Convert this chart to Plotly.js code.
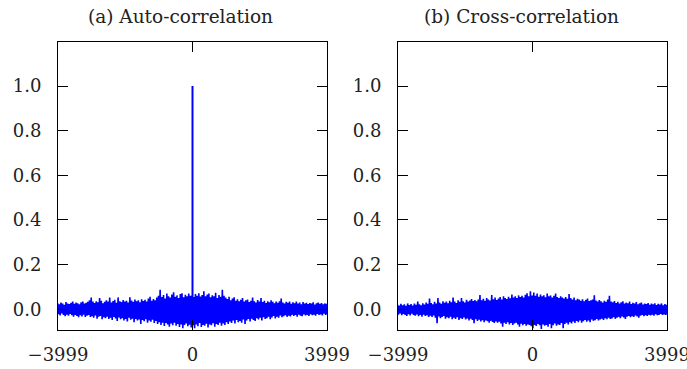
<!DOCTYPE html>
<html>
<head>
<meta charset="utf-8">
<script src="https://cdn.plot.ly/plotly-3.0.1.min.js"></script>
<style>html,body{margin:0;padding:0;background:#fff;}#chart{width:687px;height:369px;}</style>
</head>
<body>
<div id="chart"></div>
<script>
// Lag range of the correlation (sequence length 4000)
const lagMin = -3999;
const lagMax = 3999;
const nSamples = 161;

// Auto-correlation: upper / lower extent of the noise band, read column by column
const autoUpper = [
  0.028, 0.022, 0.030, 0.025, 0.020, 0.032, 0.026, 0.023, 0.029, 0.034,
  0.024, 0.030, 0.027, 0.022, 0.031, 0.035, 0.026, 0.029, 0.033, 0.040,
  0.052, 0.034, 0.028, 0.036, 0.031, 0.050, 0.038, 0.027, 0.033, 0.040,
  0.035, 0.052, 0.030, 0.037, 0.042, 0.029, 0.053, 0.036, 0.032, 0.041,
  0.034, 0.038, 0.030, 0.054, 0.039, 0.033, 0.044, 0.036, 0.040, 0.031,
  0.045, 0.037, 0.042, 0.034, 0.048, 0.056, 0.038, 0.046, 0.040, 0.052,
  0.060, 0.087, 0.055, 0.064, 0.048, 0.070, 0.058, 0.052, 0.066, 0.076,
  0.056, 0.062, 0.050, 0.068, 0.072, 0.054, 0.065, 0.058, 0.070, 0.060,
  0.062, 0.055, 0.068, 0.060, 0.072, 0.057, 0.064, 0.080, 0.058, 0.066,
  0.070, 0.054, 0.062, 0.058, 0.074, 0.050, 0.064, 0.056, 0.087, 0.060,
  0.052, 0.046, 0.056, 0.040, 0.048, 0.054, 0.038, 0.045, 0.036, 0.042,
  0.050, 0.034, 0.040, 0.044, 0.032, 0.038, 0.052, 0.036, 0.030, 0.041,
  0.035, 0.050, 0.032, 0.038, 0.028, 0.036, 0.031, 0.040, 0.033, 0.027,
  0.034, 0.029, 0.036, 0.048, 0.030, 0.026, 0.033, 0.029, 0.035, 0.024,
  0.031, 0.027, 0.034, 0.025, 0.030, 0.022, 0.032, 0.026, 0.029, 0.023,
  0.028, 0.025, 0.031, 0.021, 0.027, 0.030, 0.024, 0.028, 0.022, 0.026,
  0.024
];
const autoLower = [
  -0.022, -0.028, -0.019, -0.026, -0.031, -0.024, -0.029, -0.021, -0.027, -0.033,
  -0.025, -0.030, -0.036, -0.027, -0.032, -0.024, -0.034, -0.029, -0.026, -0.035,
  -0.031, -0.038, -0.028, -0.042, -0.034, -0.030, -0.045, -0.036, -0.040, -0.033,
  -0.044, -0.038, -0.048, -0.035, -0.041, -0.052, -0.037, -0.045, -0.040, -0.050,
  -0.043, -0.055, -0.038, -0.047, -0.042, -0.058, -0.044, -0.050, -0.046, -0.066,
  -0.048, -0.054, -0.045, -0.060, -0.050, -0.056, -0.047, -0.062, -0.052, -0.066,
  -0.058, -0.070, -0.060, -0.075, -0.062, -0.068, -0.078, -0.064, -0.072, -0.060,
  -0.074, -0.066, -0.080, -0.068, -0.085, -0.070, -0.064, -0.076, -0.069, -0.082,
  -0.072, -0.085, -0.068, -0.076, -0.062, -0.080, -0.070, -0.074, -0.065, -0.082,
  -0.068, -0.072, -0.063, -0.078, -0.066, -0.070, -0.060, -0.074, -0.064, -0.070,
  -0.058, -0.066, -0.055, -0.062, -0.050, -0.064, -0.048, -0.058, -0.052, -0.060,
  -0.046, -0.066, -0.050, -0.044, -0.055, -0.042, -0.048, -0.052, -0.040, -0.046,
  -0.038, -0.050, -0.036, -0.044, -0.040, -0.034, -0.045, -0.037, -0.030, -0.041,
  -0.033, -0.038, -0.028, -0.036, -0.031, -0.027, -0.034, -0.029, -0.032, -0.025,
  -0.030, -0.026, -0.033, -0.024, -0.029, -0.031, -0.023, -0.028, -0.025, -0.030,
  -0.022, -0.027, -0.024, -0.029, -0.021, -0.026, -0.023, -0.028, -0.020, -0.025,
  -0.022
];
// Auto-correlation peak at zero lag
const peakLag = [0];
const peakValue = [1.0];

// Cross-correlation: upper / lower extent of the noise band
const crossUpper = [
  0.020, 0.016, 0.024, 0.018, 0.022, 0.015, 0.026, 0.019, 0.023, 0.017,
  0.025, 0.020, 0.034, 0.022, 0.018, 0.027, 0.021, 0.030, 0.024, 0.048,
  0.028, 0.022, 0.033, 0.026, 0.050, 0.030, 0.024, 0.036, 0.029, 0.034,
  0.027, 0.038, 0.031, 0.052, 0.035, 0.028, 0.040, 0.033, 0.050, 0.036,
  0.030, 0.042, 0.035, 0.039, 0.046, 0.037, 0.041, 0.036, 0.044, 0.064,
  0.040, 0.047, 0.038, 0.050, 0.043, 0.039, 0.064, 0.045, 0.052, 0.041,
  0.048, 0.055, 0.044, 0.058, 0.050, 0.046, 0.056, 0.049, 0.066, 0.053,
  0.058, 0.050, 0.062, 0.055, 0.060, 0.052, 0.065, 0.072, 0.058, 0.080,
  0.062, 0.075, 0.060, 0.070, 0.056, 0.066, 0.058, 0.063, 0.054, 0.070,
  0.058, 0.062, 0.052, 0.060, 0.070, 0.055, 0.050, 0.058, 0.053, 0.048,
  0.055, 0.047, 0.068, 0.050, 0.044, 0.052, 0.040, 0.047, 0.043, 0.038,
  0.045, 0.036, 0.042, 0.048, 0.037, 0.040, 0.044, 0.062, 0.039, 0.034,
  0.041, 0.036, 0.030, 0.038, 0.033, 0.043, 0.060, 0.035, 0.031, 0.037,
  0.028, 0.033, 0.026, 0.031, 0.036, 0.025, 0.030, 0.027, 0.034, 0.023,
  0.029, 0.025, 0.032, 0.022, 0.027, 0.030, 0.021, 0.026, 0.023, 0.028,
  0.020, 0.025, 0.022, 0.027, 0.019, 0.024, 0.021, 0.026, 0.018, 0.023,
  0.020
];
const crossLower = [
  -0.024, -0.019, -0.027, -0.021, -0.026, -0.030, -0.022, -0.028, -0.020, -0.025,
  -0.029, -0.023, -0.031, -0.026, -0.033, -0.024, -0.030, -0.027, -0.035, -0.029,
  -0.034, -0.028, -0.038, -0.063, -0.032, -0.040, -0.035, -0.030, -0.042, -0.036,
  -0.040, -0.034, -0.045, -0.038, -0.043, -0.036, -0.048, -0.040, -0.044, -0.037,
  -0.046, -0.041, -0.050, -0.043, -0.048, -0.063, -0.045, -0.052, -0.047, -0.055,
  -0.049, -0.058, -0.050, -0.054, -0.060, -0.052, -0.057, -0.062, -0.055, -0.060,
  -0.056, -0.064, -0.078, -0.060, -0.066, -0.058, -0.068, -0.062, -0.070, -0.064,
  -0.060, -0.068, -0.078, -0.065, -0.072, -0.066, -0.074, -0.068, -0.070, -0.076,
  -0.085, -0.070, -0.075, -0.066, -0.072, -0.088, -0.068, -0.074, -0.070, -0.078,
  -0.066, -0.085, -0.072, -0.064, -0.074, -0.068, -0.070, -0.062, -0.085, -0.066,
  -0.060, -0.068, -0.058, -0.064, -0.055, -0.062, -0.052, -0.058, -0.050, -0.060,
  -0.054, -0.048, -0.056, -0.050, -0.058, -0.046, -0.052, -0.049, -0.044, -0.050,
  -0.046, -0.042, -0.048, -0.040, -0.045, -0.038, -0.044, -0.041, -0.036, -0.043,
  -0.038, -0.034, -0.040, -0.032, -0.037, -0.044, -0.033, -0.030, -0.036, -0.031,
  -0.034, -0.028, -0.032, -0.038, -0.029, -0.026, -0.031, -0.027, -0.030, -0.025,
  -0.028, -0.024, -0.029, -0.022, -0.027, -0.025, -0.021, -0.026, -0.023, -0.025,
  -0.022
];

// Tick labels
const xTickVals = [-3999, 0, 3999];
const xTickText = ['\u22123999', '0', '3999'];
const yTickVals = [0, 0.2, 0.4, 0.6, 0.8, 1.0];
const yTickText = ['0.0', '0.2', '0.4', '0.6', '0.8', '1.0'];
const titles = ['(a) Auto-correlation', '(b) Cross-correlation'];

// lag grid for the band samples
const step = (lagMax - lagMin) / (nSamples - 1);
const lags = [];
for (let i = 0; i < nSamples; i++) lags.push(lagMin + i * step);

const BLUE = '#0000ff';
// noise band drawn as an up/down trace through the per-column extents
function band(up, lo, xa, ya) {
  const x = [], y = [];
  for (let i = 0; i < lags.length; i++) {
    x.push(lags[i] - step / 4); y.push(up[i]);
    x.push(lags[i] + step / 4); y.push(lo[i]);
  }
  return {
    x: x, y: y, xaxis: xa, yaxis: ya,
    type: 'scatter', mode: 'lines',
    line: {color: BLUE, width: 1.6},
    hoverinfo: 'skip', showlegend: false
  };
}

const traces = [
  band(autoUpper, autoLower, 'x', 'y'),
  {
    x: [peakLag[0], peakLag[0]], y: [0, peakValue[0]],
    xaxis: 'x', yaxis: 'y', type: 'scatter', mode: 'lines',
    line: {color: BLUE, width: 2}, showlegend: false
  },
  band(crossUpper, crossLower, 'x2', 'y2')
];

const FONT = 'DejaVu Serif, serif';
function xax(domain, anchor) {
  return {
    domain: domain, anchor: anchor, range: [lagMin, lagMax],
    tickmode: 'array', tickvals: xTickVals, ticktext: xTickText,
    ticks: 'inside', ticklen: 10, tickwidth: 1, tickcolor: '#000',
    showline: true, linecolor: '#000', linewidth: 1, mirror: 'ticks',
    showgrid: false, zeroline: false, ticklabelstandoff: 8,
    ticklabeloverflow: 'allow',
    tickfont: {family: FONT, size: 18, color: '#222'}
  };
}
function yax(anchor) {
  return {
    domain: [0.1057, 0.8854], anchor: anchor, range: [-0.093, 1.196],
    tickmode: 'array', tickvals: yTickVals, ticktext: yTickText,
    ticks: 'inside', ticklen: 10, tickwidth: 1, tickcolor: '#000',
    showline: true, linecolor: '#000', linewidth: 1, mirror: 'ticks',
    showgrid: false, zeroline: false, ticklabelstandoff: 12,
    tickfont: {family: FONT, size: 18, color: '#222'}
  };
}

const layout = {
  width: 687, height: 369,
  margin: {l: 0, r: 0, t: 0, b: 0},
  paper_bgcolor: '#fff', plot_bgcolor: '#fff',
  showlegend: false,
  xaxis: xax([58 / 687, 327 / 687], 'y'),
  yaxis: yax('x'),
  xaxis2: xax([398 / 687, 667 / 687], 'y2'),
  yaxis2: yax('x2'),
  annotations: [
    {text: titles[0], xref: 'paper', yref: 'paper', x: 180 / 687, y: 1 - 16 / 369,
     xanchor: 'center', yanchor: 'middle', showarrow: false,
     font: {family: FONT, size: 18.5, color: '#222'}},
    {text: titles[1], xref: 'paper', yref: 'paper', x: 521 / 687, y: 1 - 16 / 369,
     xanchor: 'center', yanchor: 'middle', showarrow: false,
     font: {family: FONT, size: 18.5, color: '#222'}}
  ]
};

Plotly.newPlot('chart', traces, layout, {staticPlot: true, displayModeBar: false});
</script>
</body>
</html>
